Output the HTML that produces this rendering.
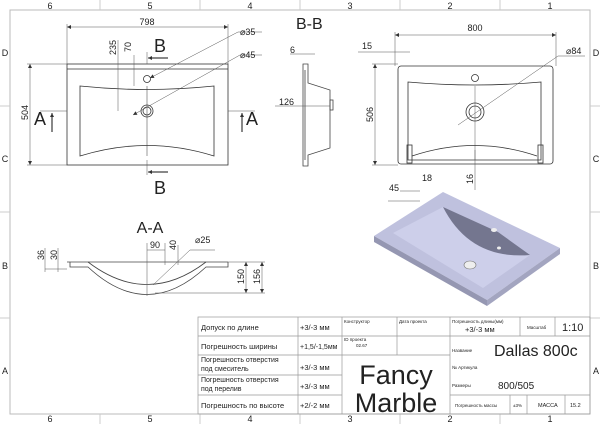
<!DOCTYPE html>
<html><head><meta charset="utf-8"><style>
html,body{margin:0;padding:0;background:#fff}
svg{display:block}
text{font-family:"Liberation Sans",sans-serif;fill:#222}
.r{font-family:"DejaVu Sans","Liberation Sans",sans-serif}
</style></head><body>
<svg width="600" height="424" viewBox="0 0 600 424" xmlns="http://www.w3.org/2000/svg">
<defs>
<marker id="a" viewBox="0 0 10 10" refX="10" refY="5" markerWidth="5" markerHeight="4" orient="auto-start-reverse" markerUnits="userSpaceOnUse"><path d="M0 0 L10 5 L0 10 Z" fill="#333"/></marker>
</defs>
<rect width="600" height="424" fill="#fff"/>
<rect x="10" y="10" width="580" height="404" fill="none" stroke="#bbb" stroke-width="1"/>
<g stroke="#ccc" stroke-width="1">
<line x1="100" y1="0" x2="100" y2="10"/><line x1="200" y1="0" x2="200" y2="10"/><line x1="300" y1="0" x2="300" y2="10"/><line x1="400" y1="0" x2="400" y2="10"/><line x1="500" y1="0" x2="500" y2="10"/>
<line x1="100" y1="414" x2="100" y2="424"/><line x1="200" y1="414" x2="200" y2="424"/><line x1="300" y1="414" x2="300" y2="424"/><line x1="400" y1="414" x2="400" y2="424"/><line x1="500" y1="414" x2="500" y2="424"/>
<line x1="0" y1="106" x2="10" y2="106"/><line x1="0" y1="212" x2="10" y2="212"/><line x1="0" y1="318" x2="10" y2="318"/>
<line x1="590" y1="106" x2="600" y2="106"/><line x1="590" y1="212" x2="600" y2="212"/><line x1="590" y1="318" x2="600" y2="318"/>
</g>
<g font-size="9" text-anchor="middle">
<text x="50" y="9">6</text><text x="150" y="9">5</text><text x="250" y="9">4</text><text x="350" y="9">3</text><text x="450" y="9">2</text><text x="550" y="9">1</text>
<text x="50" y="422">6</text><text x="150" y="422">5</text><text x="250" y="422">4</text><text x="350" y="422">3</text><text x="450" y="422">2</text><text x="550" y="422">1</text>
<text x="5" y="56">D</text><text x="5" y="162">C</text><text x="5" y="269">B</text><text x="5" y="374">A</text>
<text x="596" y="56">D</text><text x="596" y="162">C</text><text x="596" y="269">B</text><text x="596" y="374">A</text>
</g>

<g fill="none" stroke="#333" stroke-width="0.8">
<rect x="67" y="64" width="161" height="101"/>
<line x1="67" y1="69" x2="228" y2="69"/>
<path d="M80 86 Q147 93 214 86 L214 156 Q147 135 80 156 Z"/>
<line x1="147" y1="86" x2="147" y2="156" stroke-width="0.5"/>
<circle cx="147" cy="111" r="6"/><circle cx="147" cy="111" r="4"/>
<circle cx="147" cy="79" r="3.5"/>
</g>
<g stroke="#555" stroke-width="0.5" fill="none">
<line x1="67" y1="27" x2="228" y2="27" marker-start="url(#a)" marker-end="url(#a)"/><line x1="67" y1="24" x2="67" y2="64"/><line x1="228" y1="24" x2="228" y2="64"/>
<line x1="30" y1="64" x2="30" y2="165" marker-start="url(#a)" marker-end="url(#a)"/><line x1="27" y1="64" x2="67" y2="64"/><line x1="27" y1="165" x2="67" y2="165"/>
<line x1="118" y1="40" x2="118" y2="111"/><line x1="134" y1="55" x2="134" y2="86"/>
<line x1="133" y1="115" x2="240" y2="55" marker-start="url(#a)"/><line x1="240" y1="55" x2="262" y2="55"/>
<line x1="150" y1="78" x2="238" y2="32" marker-start="url(#a)"/><line x1="238" y1="32" x2="262" y2="32"/>
<line x1="147" y1="52" x2="147" y2="64"/><line x1="147" y1="160" x2="147" y2="175"/>
<line x1="40" y1="111" x2="67" y2="111"/><line x1="228" y1="111" x2="255" y2="111"/>
</g>
<g stroke="#111" stroke-width="1"><line x1="148" y1="58" x2="168" y2="58" marker-start="url(#a)"/><line x1="148" y1="172" x2="168" y2="172" marker-start="url(#a)"/><line x1="52" y1="113" x2="52" y2="132" marker-start="url(#a)"/><line x1="242" y1="113" x2="242" y2="132" marker-start="url(#a)"/></g>
<text x="154" y="52" font-size="18">B</text><text x="154" y="194" font-size="18">B</text>
<text x="34" y="125" font-size="18">A</text><text x="246" y="125" font-size="18">A</text>
<g font-size="9">
<text x="147" y="25" text-anchor="middle">798</text>
<text x="240" y="35">⌀35</text><text x="240" y="58">⌀45</text>
<text transform="translate(28,120) rotate(-90)">504</text>
<text transform="translate(116,55) rotate(-90)">235</text>
<text transform="translate(131,52) rotate(-90)">70</text>
</g>

<text x="296" y="29" font-size="16">B-B</text>
<g fill="none" stroke="#444" stroke-width="0.8">
<path d="M303 64 L308 64 L308 83 L330 90 L330 148 L308 155 L308 166 L303 166 Z"/>
<line x1="305" y1="70" x2="305" y2="160"/>
<rect x="330" y="100" width="3" height="10"/>
</g>
<g font-size="9"><text x="290" y="53">6</text><text x="279" y="105">126</text></g>
<g stroke="#555" stroke-width="0.5"><line x1="290" y1="54" x2="315" y2="54"/><line x1="275" y1="106" x2="330" y2="106"/></g>

<g fill="none" stroke="#333" stroke-width="0.8">
<rect x="398" y="66" width="155" height="98" rx="3"/>
<path d="M408 82 Q475 88 541 82 L541 160 L408 160 Z"/>
<path d="M412 156 Q475 135 537 156"/>
<rect x="407" y="145" width="5" height="18"/><rect x="538" y="145" width="5" height="18"/>
<circle cx="475" cy="112" r="9"/><circle cx="475" cy="112" r="6"/>
<circle cx="475" cy="78" r="3.5"/>
<line x1="475" y1="86" x2="475" y2="160" stroke-width="0.4"/>
</g>
<g stroke="#555" stroke-width="0.5">
<line x1="395" y1="35" x2="556" y2="35" marker-start="url(#a)" marker-end="url(#a)"/><line x1="395" y1="32" x2="395" y2="66"/><line x1="556" y1="32" x2="556" y2="66"/>
<line x1="375" y1="64" x2="375" y2="165" marker-start="url(#a)" marker-end="url(#a)"/><line x1="372" y1="64" x2="398" y2="64"/><line x1="372" y1="165" x2="398" y2="165"/>
<line x1="458" y1="125" x2="558" y2="56"/><line x1="558" y1="56" x2="585" y2="56"/>
<line x1="358" y1="52" x2="410" y2="52"/>
<line x1="400" y1="191" x2="420" y2="191"/><line x1="388" y1="201" x2="420" y2="201"/>
<line x1="475" y1="150" x2="475" y2="190"/>
</g>
<g font-size="9">
<text x="475" y="31" text-anchor="middle">800</text><text x="566" y="54">⌀84</text><text x="362" y="49">15</text>
<text transform="translate(373,122) rotate(-90)">506</text>
<text x="422" y="181">18</text><text x="389" y="191">45</text>
<text transform="translate(473,184) rotate(-90)">16</text>
</g>

<g>
<path d="M374 236 L443 192 L560 248 L487 300 Z" fill="#bfc1de"/>
<path d="M374 236 L374 242 L487 306 L487 300 Z" fill="#9597b2"/>
<path d="M487 300 L487 306 L560 254 L560 248 Z" fill="#a3a5c0"/>
<path d="M393 233 L443 207 L530 255 L483 288 Z" fill="#cdcfea"/>
<path d="M443 207 Q470 260 530 255 L498 232 Z" fill="#74768f"/>
<ellipse cx="470" cy="265" rx="6" ry="4" fill="#eee" stroke="#777" stroke-width="0.6"/>
<ellipse cx="494" cy="230" rx="3" ry="2" fill="#eee"/><ellipse cx="499" cy="248" rx="2" ry="1.5" fill="#eee"/>
</g>

<text x="150" y="233" font-size="16" text-anchor="middle">A-A</text>
<g fill="none" stroke="#444" stroke-width="0.8">
<line x1="67" y1="262" x2="228" y2="262"/>
<path d="M70 262 L70 267 L88 267 Q147 322 206 267 L228 267 L228 262"/>
<path d="M88 262 Q147 307 206 262"/>
</g>
<g stroke="#555" stroke-width="0.5">
<line x1="45" y1="248" x2="45" y2="272"/><line x1="58" y1="248" x2="58" y2="272"/><line x1="45" y1="269" x2="67" y2="269"/>
<line x1="147" y1="243" x2="147" y2="296"/><line x1="165" y1="243" x2="165" y2="265"/><line x1="147" y1="250" x2="165" y2="250"/>
<line x1="178" y1="245" x2="178" y2="265"/>
<line x1="153" y1="285" x2="190" y2="250"/><line x1="190" y1="250" x2="215" y2="250"/>
<line x1="246" y1="262" x2="246" y2="293" marker-start="url(#a)" marker-end="url(#a)"/><line x1="262" y1="262" x2="262" y2="293" marker-start="url(#a)" marker-end="url(#a)"/><line x1="228" y1="262" x2="265" y2="262"/><line x1="155" y1="293" x2="265" y2="293"/>
</g>
<g font-size="9">
<text transform="translate(44,260) rotate(-90)">36</text><text transform="translate(57,260) rotate(-90)">30</text>
<text x="150" y="248">90</text><text transform="translate(176,250) rotate(-90)">40</text>
<text x="195" y="243">⌀25</text>
<text transform="translate(244,284) rotate(-90)">150</text><text transform="translate(260,284) rotate(-90)">156</text>
</g>

<g fill="none" stroke="#999" stroke-width="0.7">
<rect x="198" y="317" width="392" height="97"/>
<line x1="298" y1="317" x2="298" y2="414"/><line x1="342" y1="317" x2="342" y2="414"/>
<line x1="450" y1="317" x2="450" y2="414"/>
<line x1="198" y1="336" x2="450" y2="336"/><line x1="198" y1="355" x2="342" y2="355"/><line x1="198" y1="375" x2="342" y2="375"/><line x1="198" y1="395" x2="342" y2="395"/>
<line x1="342" y1="355" x2="450" y2="355"/><line x1="397" y1="317" x2="397" y2="355"/>
<line x1="450" y1="336" x2="590" y2="336"/><line x1="450" y1="395" x2="590" y2="395"/>
<line x1="520" y1="317" x2="520" y2="336"/><line x1="555" y1="317" x2="555" y2="336"/>
<line x1="510" y1="395" x2="510" y2="414"/><line x1="527" y1="395" x2="527" y2="414"/><line x1="565" y1="395" x2="565" y2="414"/>
</g>
<g class="r" fill="#222">
<text x="201" y="330" font-size="7.5">Допуск по длине</text>
<text x="201" y="349" font-size="7.5">Погрешность ширины</text>
<text x="201" y="362" font-size="7">Погрешность отверстия</text><text x="201" y="371" font-size="7">под смеситель</text>
<text x="201" y="382" font-size="7">Погрешность отверстия</text><text x="201" y="391" font-size="7">под перелив</text>
<text x="201" y="408" font-size="7.5">Погрешность по высоте</text>
<text x="300" y="330" font-size="7.5">+3/-3 мм</text>
<text x="300" y="349" font-size="7">+1,5/-1,5мм</text>
<text x="300" y="370" font-size="7.5">+3/-3 мм</text>
<text x="300" y="389" font-size="7.5">+3/-3 мм</text>
<text x="300" y="408" font-size="7.5">+2/-2 мм</text>
<text x="344" y="323" font-size="4.5">Конструктор</text><text x="399" y="323" font-size="4.5">Дата проекта</text>
<text x="344" y="341" font-size="4.5">ID проекта</text><text x="356" y="347" font-size="4.5">02.67</text>
<text x="396" y="384" font-size="27" text-anchor="middle">Fancy</text>
<text x="396" y="412" font-size="27" text-anchor="middle">Marble</text>
<text x="452" y="323" font-size="4.5">Погрешность длины(мм)</text>
<text x="465" y="332" font-size="7.5">+3/-3 мм</text>
<text x="527" y="329" font-size="4.5">Масштаб</text>
<text x="562" y="331" font-size="11">1:10</text>
<text x="452" y="352" font-size="4.5">Название</text>
<text x="494" y="356" font-size="16">Dallas 800c</text>
<text x="452" y="369" font-size="4.5">№ Артикула</text>
<text x="452" y="387" font-size="4.5">Размеры</text>
<text x="498" y="389" font-size="10">800/505</text>
<text x="455" y="407" font-size="4.5">Погрешность массы</text>
<text x="513" y="407" font-size="4.5">±3%</text>
<text x="538" y="407" font-size="5.5">МАССА</text>
<text x="570" y="407" font-size="5.5">15.2</text>
</g>
</svg>
</body></html>
